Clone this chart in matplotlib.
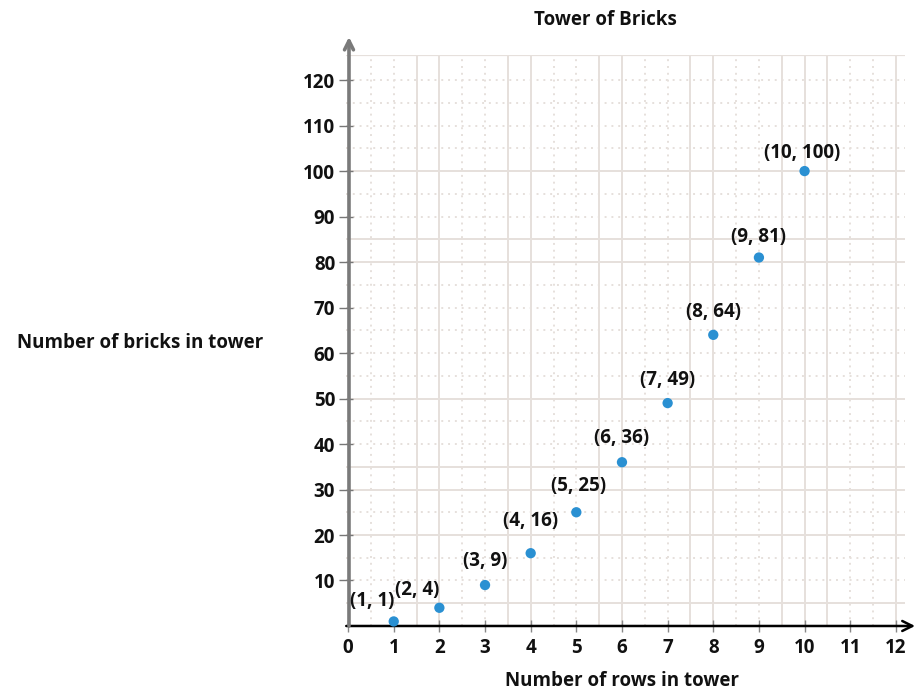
import matplotlib
matplotlib.use("Agg")
import matplotlib.pyplot as plt

rows = [1, 2, 3, 4, 5, 6, 7, 8, 9, 10]
bricks = [1, 4, 9, 16, 25, 36, 49, 64, 81, 100]
point_labels = ["(1, 1)", "(2, 4)", "(3, 9)", "(4, 16)", "(5, 25)",
                "(6, 36)", "(7, 49)", "(8, 64)", "(9, 81)", "(10, 100)"]
x_ticks = [0, 1, 2, 3, 4, 5, 6, 7, 8, 9, 10, 11, 12]
y_ticks = [10, 20, 30, 40, 50, 60, 70, 80, 90, 100, 110, 120]

# label offsets in pixels (style)
offsets = [(-22, 20), (-22, 18), (0, 24), (0, 32), (2, 26),
           (0, 24), (0, 23), (0, 23), (0, 21), (-2, 18)]

solid_x = [1.5, 2, 3.5, 4, 5.5, 6, 7.5, 8, 9.5, 10, 10.5, 12]
dotted_x = [0.5, 1, 2.5, 3, 4.5, 5, 6.5, 7, 8.5, 9, 11, 11.5]
solid_y = [5, 20, 30, 35, 50, 80, 85, 100]
dotted_y = [10, 15, 25, 40, 45, 55, 60, 65, 70, 75, 90, 95, 105, 110, 115, 120]

plt.rcParams['font.family'] = ['Open Sans', 'DejaVu Sans']
FS = 13.5
FW = 'bold'

fig = plt.figure(figsize=(9.16, 6.92), dpi=100)
ax = fig.add_axes([0.378, 0.0954, 0.610, 0.825])
ax.set_xlim(-0.04, 12.2)
ax.set_ylim(0, 125.5)

gc = '#e6e0dc'
for x in solid_x:
    ax.axvline(x, color=gc, lw=1.4, zorder=0)
for x in dotted_x:
    ax.axvline(x, color=gc, lw=1.4, ls=(0, (1.0, 2.5)), zorder=0)
for y in solid_y:
    ax.axhline(y, color=gc, lw=1.4, zorder=0)
for y in dotted_y:
    ax.axhline(y, color=gc, lw=1.4, ls=(0, (1.0, 2.5)), zorder=0)
ax.axhline(125.5, color=gc, lw=1.6, zorder=0)

for s in ['top', 'right', 'bottom', 'left']:
    ax.spines[s].set_visible(False)

# axes with arrows
ax.annotate('', xy=(12.42, 0), xytext=(-0.04, 0), xycoords='data',
            arrowprops=dict(arrowstyle='->', color='black', lw=1.8,
                            mutation_scale=18, shrinkA=0, shrinkB=0),
            annotation_clip=False, zorder=3)
ax.annotate('', xy=(0.02, 129.5), xytext=(0.02, 0), xycoords='data',
            arrowprops=dict(arrowstyle='->', color='#7a7a7a', lw=2.6,
                            mutation_scale=16, shrinkA=0, shrinkB=0),
            annotation_clip=False, zorder=3)

ax.set_xticks(x_ticks)
ax.set_xticklabels([str(v) for v in x_ticks])
ax.set_yticks(y_ticks)
ax.set_yticklabels([str(v) for v in y_ticks])
ax.tick_params(axis='x', direction='inout', length=8, width=1, color='#888888',
               labelsize=FS, pad=5)
ax.tick_params(axis='y', direction='inout', length=10, width=1, color='#777777',
               labelsize=FS, pad=3)
for lab in ax.get_xticklabels() + ax.get_yticklabels():
    lab.set_fontweight(FW)
    lab.set_color('#111111')

ax.scatter(rows, bricks, s=55, color='#2a90d2', zorder=4, clip_on=False,
           edgecolors='none')
for x, y, t, (dx, dy) in zip(rows, bricks, point_labels, offsets):
    ax.annotate(t, xy=(x, y), xytext=(dx, dy), textcoords='offset pixels',
                ha='center', va='center', fontsize=FS, fontweight=FW,
                color='#111111', zorder=5)

fig.text(605 / 916, 1 - 20 / 692, 'Tower of Bricks', ha='center', va='center',
         fontsize=FS, fontweight=FW, color='#111111')
fig.text(140 / 916, 1 - 343 / 692, 'Number of bricks in tower', ha='center',
         va='center', fontsize=FS, fontweight=FW, color='#111111')
fig.text(622 / 916, 1 - 681 / 692, 'Number of rows in tower', ha='center',
         va='center', fontsize=FS, fontweight=FW, color='#111111')

fig.savefig('out.png', dpi=100)
